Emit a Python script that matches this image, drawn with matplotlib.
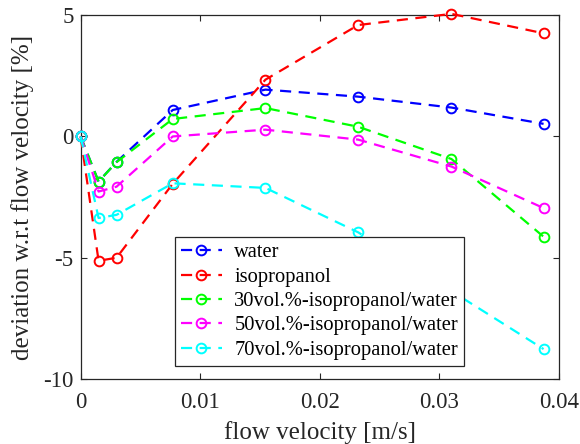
import matplotlib
matplotlib.use("Agg")
import matplotlib.pyplot as plt

plt.rcParams['font.family'] = ['Liberation Serif', 'DejaVu Serif']
plt.rcParams['mathtext.fontset'] = 'stix'

# flow velocity [m/s]
velocity = [0.0, 0.0015, 0.0030, 0.0077, 0.01545, 0.0232, 0.0310, 0.0387]

# deviation w.r.t flow velocity [%]
water = [0.0, -1.86, -1.05, 1.09, 1.93, 1.64, 1.19, 0.52]
isopropanol = [0.0, -5.12, -5.0, -1.95, 2.34, 4.59, 5.05, 4.25]
ipa30 = [0.0, -1.86, -1.06, 0.72, 1.17, 0.40, -0.93, -4.13]
ipa50 = [0.0, -2.27, -2.07, 0.0, 0.28, -0.13, -1.24, -2.95]
ipa70 = [0.0, -3.36, -3.23, -1.93, -2.12, -3.95, -6.37, -8.76]

series = [
    ("water", water, "#0000ff"),
    ("isopropanol", isopropanol, "#ff0000"),
    ("30vol.%-isopropanol/water", ipa30, "#00ff00"),
    ("50vol.%-isopropanol/water", ipa50, "#ff00ff"),
    ("70vol.%-isopropanol/water", ipa70, "#00ffff"),
]

xticks = [0, 0.01, 0.02, 0.03, 0.04]
xtick_labels = ["0", "0.01", "0.02", "0.03", "0.04"]
yticks = [-10, -5, 0, 5]
ytick_labels = ["-10", "-5", "0", "5"]

fig = plt.figure(figsize=(5.8, 4.44), dpi=100)
ax = fig.add_axes([0.139, 0.146, 0.825, 0.820])

for label, vals, color in series:
    ax.plot(velocity, vals, linestyle=(0, (5.0, 3.4)), color=color, lw=1.6,
            marker='o', markersize=7, markerfacecolor='none',
            markeredgewidth=1.4, label=label, clip_on=False, zorder=3)

ax.set_xlim(0, 0.04)
ax.set_ylim(-10, 5)
ax.set_xticks(xticks)
ax.set_xticklabels(xtick_labels)
ax.set_yticks(yticks)
ax.set_yticklabels(ytick_labels)

edge = '#262626'
for sp in ax.spines.values():
    sp.set_color(edge)
    sp.set_linewidth(0.9)
ax.tick_params(direction='in', top=True, right=True, length=4, width=0.8,
               color=edge, labelsize=16.5, labelcolor='#262626')
ax.tick_params(axis='x', pad=9)
ax.tick_params(axis='y', pad=5)

ax.set_xlabel("flow velocity [m/s]", fontsize=18, color='#262626', labelpad=6)
ax.set_ylabel("deviation w.r.t flow velocity [%]", fontsize=18, color='#262626', labelpad=7)

leg = ax.legend(loc='lower left', bbox_to_anchor=(0.1965, 0.0365), borderaxespad=0,
                fontsize=14.8, handlelength=2.0, handletextpad=0.6,
                labelspacing=0.24, borderpad=0.3, frameon=True, fancybox=False,
                framealpha=1.0, edgecolor=edge)
leg.get_frame().set_linewidth(0.9)
leg.set_zorder(5)

fig.savefig("out.png", dpi=100)
